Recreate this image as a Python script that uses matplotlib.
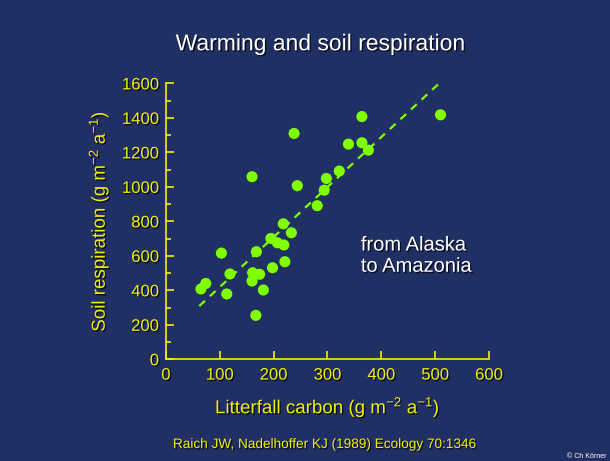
import matplotlib
matplotlib.use("Agg")
import matplotlib.pyplot as plt
import matplotlib.patheffects as pe
import numpy as np

# Raich & Nadelhoffer (1989): litterfall carbon vs soil respiration
litterfall = [65, 74, 103, 119, 113, 160, 168, 161, 160, 174, 167, 181, 198, 195, 207,
              219, 218, 221, 233, 238, 244, 281, 294, 298, 322, 339, 364, 364, 376, 510]
soil_resp = [408, 440, 616, 495, 379, 1059, 624, 502, 454, 493, 255, 402, 531, 701, 676,
             663, 786, 566, 734, 1310, 1007, 891, 981, 1049, 1092, 1248, 1256, 1408, 1213, 1418]

# dashed trend line as drawn on the slide
fit_x = [62, 506]
fit_slope = 2.9
fit_intercept = 129

x_ticks = [0, 100, 200, 300, 400, 500, 600]
y_ticks = [0, 200, 400, 600, 800, 1000, 1200, 1400, 1600]

bg = '#203064'
yellow = '#F0F000'
green = '#80FF00'
plt.rcParams['font.family'] = ['Liberation Sans', 'DejaVu Sans']
plt.rcParams['mathtext.fontset'] = 'custom'
plt.rcParams['mathtext.rm'] = 'Liberation Sans'
plt.rcParams['mathtext.it'] = 'Liberation Sans'

shadow = [pe.SimplePatchShadow(offset=(1, -1), shadow_rgbFace='black', alpha=0.7), pe.Normal()]

fig = plt.figure(figsize=(6.1, 4.61), dpi=100, facecolor=bg)
ax = fig.add_axes([0.272, 0.2206, 0.5296, 0.5984])
ax.set_facecolor(bg)

ax.scatter(litterfall, soil_resp, s=64, color=green, edgecolors='none', zorder=3)
fx = np.array(fit_x)
ax.plot(fx, fit_slope * fx + fit_intercept, color=green, lw=1.6, ls=(0, (3.5, 3)), zorder=2)

ax.set_xlim(0, 600)
ax.set_ylim(0, 1600)
ax.set_xticks(x_ticks)
ax.set_yticks(y_ticks)
ax.set_yticks(np.arange(100, 1600, 200), minor=True)
for s in ['top', 'right']:
    ax.spines[s].set_visible(False)
for s in ['left', 'bottom']:
    ax.spines[s].set_color(yellow)
    ax.spines[s].set_linewidth(1.2)
ax.tick_params(axis='both', which='major', direction='in', length=6, width=1.2,
               color=yellow, labelcolor=yellow, labelsize=12)
ax.tick_params(axis='y', which='minor', direction='in', length=3.5, width=1.2, color=yellow)
ax.tick_params(axis='x', pad=6)
ax.tick_params(axis='y', pad=5)
for lab in ax.get_xticklabels() + ax.get_yticklabels():
    lab.set_path_effects(shadow)

ax.set_xlabel('Litterfall carbon (g m$^{-2}$ a$^{-1}$)', color=yellow, fontsize=13.5,
              labelpad=9, path_effects=shadow)
ax.set_ylabel('Soil respiration (g m$^{-2}$ a$^{-1}$)', color=yellow, fontsize=13.5,
              labelpad=8, path_effects=shadow)

ax.text(362, 718, 'from Alaska\nto Amazonia', color='white', fontsize=14.5,
        ha='left', va='top', linespacing=1.15, path_effects=shadow)

fig.text(0.525, 0.905, 'Warming and soil respiration', color='white', fontsize=16.5,
         ha='center', va='center', path_effects=shadow)
fig.text(0.533, 0.037, 'Raich JW, Nadelhoffer KJ (1989) Ecology 70:1346', color=yellow,
         fontsize=9.8, ha='center', va='center', path_effects=shadow)
fig.text(0.995, 0.003, '© Ch Körner', color='white', fontsize=5, ha='right', va='bottom')

fig.savefig('out.png', dpi=100, facecolor=bg)
